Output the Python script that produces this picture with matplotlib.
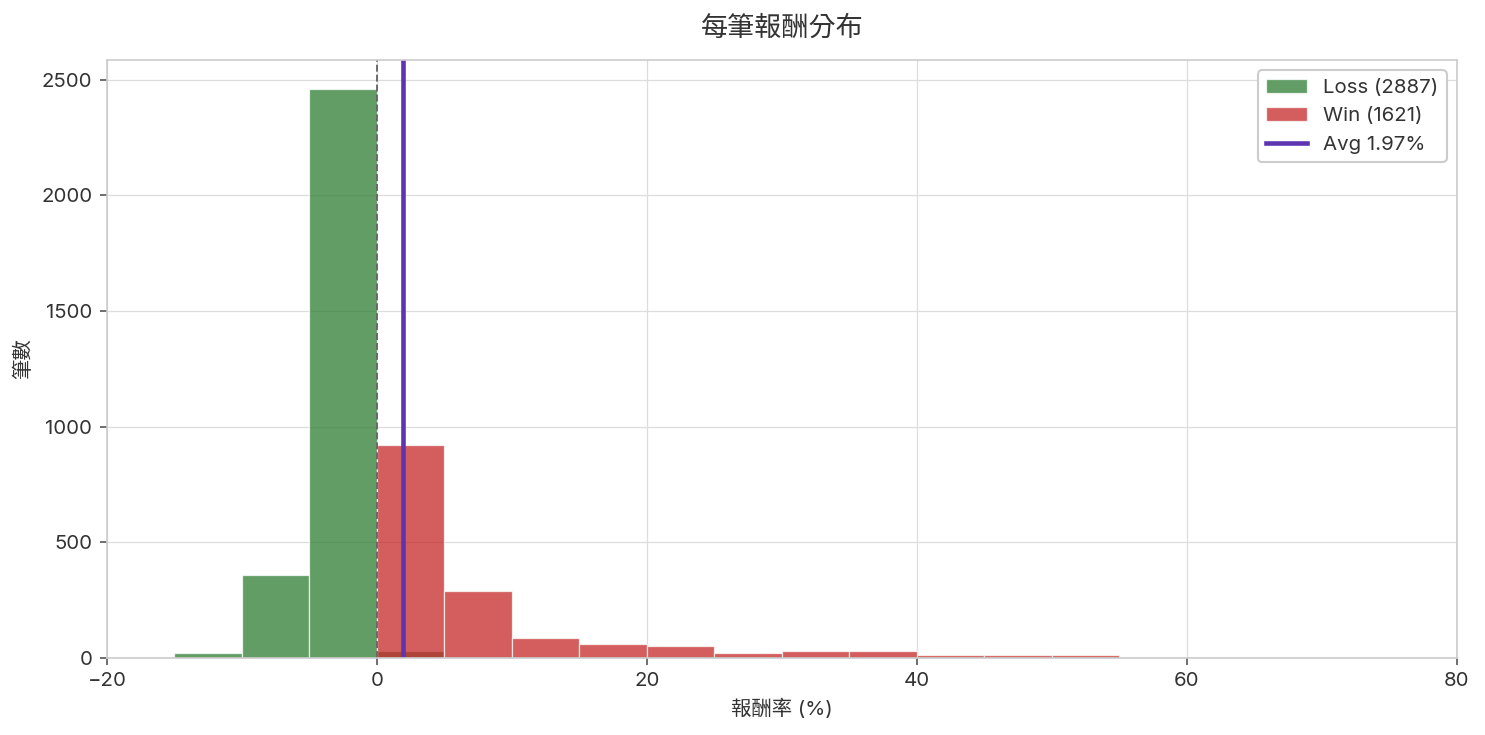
import matplotlib
matplotlib.use("Agg")
import matplotlib.pyplot as plt

# histogram counts per 5% bin
loss_edges = [-15, -10, -5, 0]
loss_counts = [20, 360, 2461, 29]
win_edges = [0, 5, 10, 15, 20, 25, 30, 35, 40, 45, 50]
win_counts = [920, 288, 85, 59, 50, 20, 29, 29, 13, 12, 12]
n_loss = 2887
n_win = 1621
avg_ret = 1.97

plt.rcParams['font.family'] = ['Inter', 'Noto Sans CJK TC', 'DejaVu Sans']
plt.rcParams['text.color'] = '#333333'
plt.rcParams['axes.labelcolor'] = '#333333'
plt.rcParams['xtick.color'] = '#333333'
plt.rcParams['ytick.color'] = '#333333'

fig, ax = plt.subplots(figsize=(9.9, 4.9), dpi=150)
fig.subplots_adjust(left=0.072, right=0.981, top=0.918, bottom=0.105)

h1 = ax.bar(loss_edges, loss_counts, width=5, align='edge', color='#2E7D32',
            alpha=0.75, edgecolor='white', linewidth=0.6,
            label='Loss (%d)' % n_loss)
h2 = ax.bar(win_edges, win_counts, width=5, align='edge', color='#C62828',
            alpha=0.75, edgecolor='white', linewidth=0.6,
            label='Win (%d)' % n_win)
ax.axvline(0, color='#666666', linestyle='--', linewidth=0.9)
h3 = ax.axvline(avg_ret, color='#5E35B1', linewidth=2.2,
                label='Avg %.2f%%' % avg_ret)

ax.set_xlim(-20, 80)
ax.set_title('每筆報酬分布', fontsize=13, pad=12)
ax.set_xlabel('報酬率 (%)', fontsize=9.8)
ax.set_ylabel('筆數', fontsize=9.8)
ax.tick_params(labelsize=9.8, length=3.5, color='#555555')
ax.grid(True, color='#dddddd', linewidth=0.6)
ax.set_axisbelow(True)
for s in ax.spines.values():
    s.set_color('#cccccc')

ax.legend(handles=[h1, h2, h3], loc='upper right', fontsize=9.8,
          framealpha=1, edgecolor='#cccccc')

fig.savefig('out.png', dpi=150)
